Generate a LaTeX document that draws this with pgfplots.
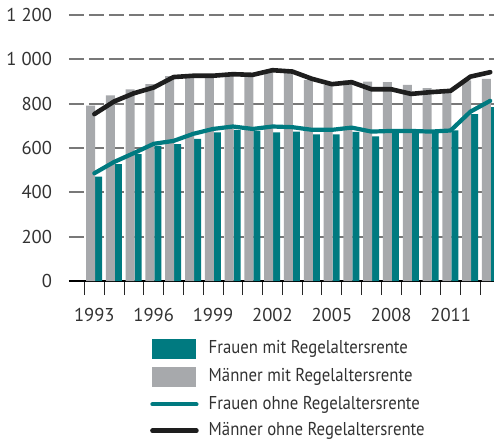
\documentclass[border=0pt]{standalone}
\usepackage{fontspec}
\setmainfont{PT Sans}
\newfontfamily\legendfont{PT Sans}[FakeStretch=0.9]
\usepackage{pgfplots}
\usepackage{pgfplotstable}
\pgfplotsset{compat=1.18}
\definecolor{tealbar}{RGB}{0,122,128}
\definecolor{greybar}{RGB}{167,169,172}
\definecolor{blackline}{RGB}{30,30,30}
\definecolor{gridgrey}{RGB}{120,120,120}
\definecolor{textgrey}{RGB}{50,50,50}

\pgfplotstableread{
year fm mm fo mo
1993 471 791 486 753
1994 527 837 537 810
1995 572 864 577 847
1996 610 888 619 873
1997 617 924 632 920
1998 641 928 664 926
1999 670 925 686 926
2000 682 930 697 933
2001 677 925 686 930
2002 670 948 697 951
2003 674 938 694 945
2004 662 907 682 912
2005 662 885 682 888
2006 673 905 692 897
2007 652 900 674 865
2008 674 897 677 865
2009 674 885 677 844
2010 672 870 674 852
2011 679 865 679 858
2012 753 905 764 922
2013 784 912 813 942
}\data

\begin{document}
\begin{tikzpicture}
\begin{axis}[
  scale only axis, width=212.5pt, height=133pt,
  xmin=1991.72, xmax=2013.19, ymin=0, ymax=1200,
  axis x line*=bottom, axis y line*=left,
  y axis line style={draw=none},
  x axis line style={black, line width=0.75pt},
  ytick={0,200,...,1200},
  yticklabels={0,200,400,600,800,1 000,1 200},
  ymajorgrids,
  grid style={gridgrey, line width=1pt, dash pattern=on 7.5pt off 2.5pt},
  ytick style={draw=none},
  yticklabel style={xshift=-5pt},
  xtick={1993,1996,...,2011},
  xticklabels={1993,1996,1999,2002,2005,2008,2011},
  minor xtick={1992.5,1993.5,...,2012.5},
  major tick length=0pt, minor tick length=7pt,
  tick align=outside,
  minor x tick style={black!85, line width=0.5pt},
  xticklabel style={yshift=-10pt},
  tick label style={font=\fontsize{9.3}{11}\selectfont, text=textgrey},
  legend style={at={(axis description cs:0.19,-0.215)}, anchor=north west,
    draw=none, fill=none, font=\legendfont\fontsize{9.3}{11}\selectfont, text=textgrey,
    row sep=4.2pt, inner sep=0pt,
    nodes={inner sep=0pt, text height=7pt, text depth=2pt},
    /tikz/every odd column/.append style={column sep=5pt}},
  legend cell align=left,
]
\addplot[ybar, fill=tealbar, draw=none, bar width=3.5pt, bar shift=2.1pt,
  legend image code/.code={\fill[tealbar] (0pt,-5pt) rectangle (22pt,5pt);}]
  table[x=year,y=fm]{\data};
\addlegendentry{Frauen mit Regelaltersrente}
\addplot[ybar, fill=greybar, draw=none, bar width=4.5pt, bar shift=-1.9pt,
  legend image code/.code={\fill[greybar] (0pt,-5pt) rectangle (22pt,5pt);}]
  table[x=year,y=mm]{\data};
\addlegendentry{Männer mit Regelaltersrente}
\addplot[tealbar, line width=2.1pt, line join=round, line cap=round,
  legend image code/.code={\draw[tealbar,line width=2.1pt,line cap=round] (0pt,0pt) -- (22pt,0pt);}]
  table[x=year,y=fo]{\data};
\addlegendentry{Frauen ohne Regelaltersrente}
\addplot[blackline, line width=2.3pt, line join=round, line cap=round,
  legend image code/.code={\draw[blackline,line width=2.3pt,line cap=round] (0pt,0pt) -- (22pt,0pt);}]
  table[x=year,y=mo]{\data};
\addlegendentry{Männer ohne Regelaltersrente}
\end{axis}
\pgfresetboundingbox
\path[use as bounding box] (-34.5pt,-79pt) rectangle (212.5pt,140.5pt);
\end{tikzpicture}
\end{document}
